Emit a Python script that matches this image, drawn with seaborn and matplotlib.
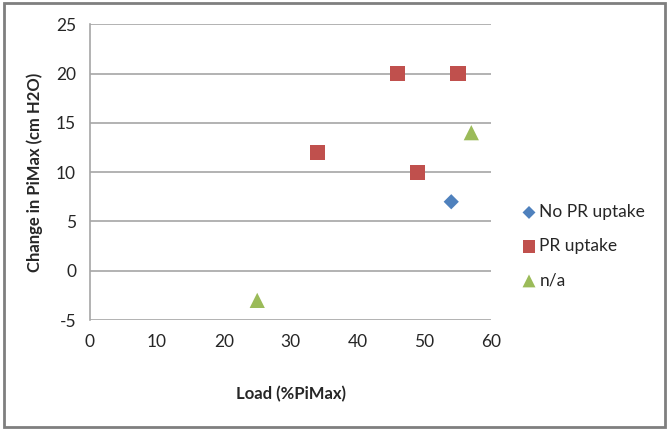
import pandas as pd
import matplotlib.pyplot as plt
import seaborn as sns
from matplotlib.patches import Rectangle

# valores
groups = ["No PR uptake", "PR uptake", "PR uptake", "PR uptake", "PR uptake", "n/a", "n/a"]
load = [54, 34, 46, 49, 55, 25, 57]
change = [7, 12, 20, 10, 20, -3, 14]

order = ["No PR uptake", "PR uptake", "n/a"]
colors = {"No PR uptake": "#4F81BD", "PR uptake": "#C0504D", "n/a": "#9BBB59"}
markers = {"No PR uptake": "D", "PR uptake": "s", "n/a": "^"}
sizes = {"No PR uptake": 60, "PR uptake": 120, "n/a": 120}

df = pd.DataFrame({"group": groups, "load": load, "change": change})

sns.set_style("white")
plt.rcParams["font.family"] = ["Lato", "DejaVu Sans"]
plt.rcParams["axes.unicode_minus"] = False

fig = plt.figure(figsize=(6.69, 4.32), dpi=100)
ax = fig.add_axes([0.1345, 0.259, 0.6, 0.685])

for g in order:
    sub = df[df["group"] == g]
    sns.scatterplot(data=sub, x="load", y="change", ax=ax, color=colors[g],
                    marker=markers[g], s=sizes[g], edgecolor="none", label=g,
                    zorder=3, clip_on=False)

ax.set_xlim(0, 60)
ax.set_ylim(-5, 25)
ax.set_xticks(range(0, 61, 10))
ax.set_yticks(range(-5, 26, 5))
ax.yaxis.grid(True, color="#A6A6A6", linewidth=1.2)
ax.xaxis.grid(False)
for side in ["top", "right", "bottom"]:
    ax.spines[side].set_visible(False)
ax.spines["left"].set_color("#A6A6A6")
ax.spines["left"].set_linewidth(1.2)
ax.tick_params(axis="both", length=0, labelsize=12.5, colors="#262626", pad=10)

ax.set_xlabel("Load (%PiMax)", fontsize=12, fontweight="bold", labelpad=26)
ax.set_ylabel("Change in PiMax (cm H2O)", fontsize=12, fontweight="bold", labelpad=9)

leg = ax.legend(loc="center left", bbox_to_anchor=(0.757, 0.43), bbox_transform=fig.transFigure,
                frameon=False, fontsize=12.5, handlelength=0.8, handletextpad=0.2,
                labelspacing=1.05, markerscale=0.85)

fig.patches.append(Rectangle((0.006, 0.012), 0.988, 0.98, transform=fig.transFigure,
                             fill=False, edgecolor="#7F7F7F", linewidth=2))

fig.savefig("out.png", dpi=100)
